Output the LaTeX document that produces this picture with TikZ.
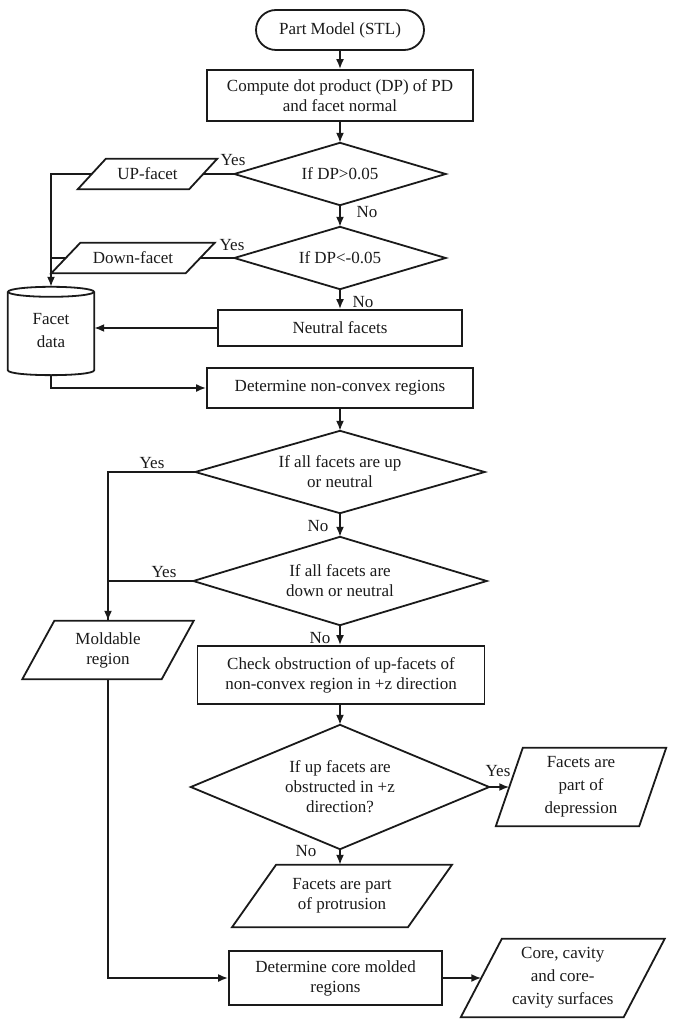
\documentclass[tikz,border=0pt]{standalone}
\usepackage{fontspec}
\setmainfont{Liberation Serif}
\usetikzlibrary{calc,arrows.meta}
\definecolor{ink}{HTML}{1A1A1A}
\newcommand\paral[2]{\draw[ln] ($(#1.south west)+(-#2,0)$) -- ($(#1.north west)+(#2,0)$) -- ($(#1.north east)+(#2,0)$) -- ($(#1.south east)+(-#2,0)$) -- cycle;}
\newcommand\diam[1]{\draw[ln] (#1.north) -- (#1.east) -- (#1.south) -- (#1.west) -- cycle;}
\begin{document}
\begin{tikzpicture}[x=1pt,y=-1pt,
  every node/.style={font=\fontsize{17}{20}\selectfont, text=ink, inner sep=0pt, align=center},
  wide/.style={font=\fontsize{17}{23}\selectfont},
  ln/.style={draw=ink, line width=1.8pt, line join=miter},
  arr/.style={ln, -{Latex[length=10pt,width=8pt]}},
  boxed/.style={draw=ink, line width=1.8pt},
  lbl/.style={font=\fontsize{17}{20}\selectfont}]
\useasboundingbox (0,0) rectangle (675,1024);
% nodes
\node[boxed, rounded corners=20pt, minimum width=168pt, minimum height=40pt] (start) at (340,30) {Part Model (STL)};
\node[boxed, minimum width=266pt, minimum height=51pt] (comp) at (340,95.5) {Compute dot product (DP) of PD\\and facet normal};
\node[minimum width=211pt, minimum height=62pt] (d1) at (340,174) {If DP>0.05};
\node[minimum width=111pt, minimum height=30pt] (up) at (147.5,174) {UP-facet};
\node[minimum width=211pt, minimum height=62pt] (d2) at (340,258) {If DP<-0.05};
\node[minimum width=134pt, minimum height=30pt] (down) at (133,258) {Down-facet};
\node[boxed, minimum width=244pt, minimum height=36pt] (neutral) at (340,328) {Neutral facets};
\node[wide, minimum width=86pt, minimum height=88pt] (fd) at (51,331) {\raisebox{8pt}{\begin{tabular}{@{}c@{}}Facet\\data\end{tabular}}};
\node[boxed, minimum width=266pt, minimum height=40pt] (det) at (340,388) {Determine non-convex regions};
\node[minimum width=289pt, minimum height=82pt] (d3) at (340,472) {If all facets are up\\or neutral};
\node[minimum width=293pt, minimum height=88pt] (d4) at (340,581) {If all facets are\\down or neutral};
\node[minimum width=139pt, minimum height=58pt] (mold) at (108,650) {Moldable\\region};
\node[boxed, minimum width=287pt, minimum height=58pt] (check) at (341,675) {Check obstruction of up-facets of\\non-convex region in +z direction};
\node[minimum width=298pt, minimum height=124pt] (d5) at (340,787) {If up facets are\\obstructed in +z\\direction?};
\node[wide, minimum width=143pt, minimum height=78pt] (dep) at (581,787) {Facets are\\part of\\depression};
\node[minimum width=175.5pt, minimum height=62pt] (prot) at (342,896) {Facets are part\\of protrusion};
\node[boxed, minimum width=213pt, minimum height=54pt] (core) at (335.5,978) {Determine core molded\\regions};
\node[wide, minimum width=162.5pt, minimum height=78pt] (out) at (562.75,978) {Core, cavity\\and core-\\cavity surfaces};
% shapes
\diam{d1} \diam{d2} \diam{d3} \diam{d4} \diam{d5}
\paral{up}{14} \paral{down}{14.5} \paral{mold}{16} \paral{dep}{13.5} \paral{prot}{22} \paral{out}{20.5}
% cylinder
\draw[ln] ($(fd.north)+(0,5)$) ellipse [x radius=43, y radius=5];
\draw[ln] ($(fd.north west)+(0,5)$) -- ($(fd.south west)+(0,-5)$) .. controls +(0,6.6) and +(0,6.6) .. ($(fd.south east)+(0,-5)$) -- ($(fd.north east)+(0,5)$);
% connectors
\draw[arr] (start) -- (comp);
\draw[arr] (comp) -- (d1);
\draw[ln] (d1.west) -- (up.east);
\draw[arr] (up.west) -| (fd.north);
\draw[arr] (d1.south) -- (d2.north);
\draw[ln] (d2.west) -- (down.east);
\draw[ln] (down.west) -- (down.west -| fd.north);
\draw[arr] (d2.south) -- (neutral.north);
\draw[arr] (neutral.west) -- (neutral.west -| fd.east);
\draw[arr] (fd.south) |- (det.west);
\draw[arr] (det) -- (d3);
\draw[ln] (d3.west) -| (mold.north);
\draw[ln] (d4.west) -- (d4.west -| mold.north);
\draw[arr] (d3.west -| mold.north) -- (mold.north);
\draw[arr] (d3.south) -- (d4.north);
\draw[arr] (d4.south) -- (d4.south |- check.north);
\draw[arr] (d5.north |- check.south) -- (d5.north);
\draw[arr] (d5.east) -- (dep.west);
\draw[arr] (d5.south) -- (d5.south |- prot.north);
\draw[arr] (mold.south) |- (core.west);
\draw[arr] (core.east) -- (out.west);
% labels
\node[lbl] (y1) at (233,160) {Yes};
\node[lbl] (n1) at (367,212) {No};
\node[lbl] (y2) at (232,245) {Yes};
\node[lbl] (n2) at (363,302) {No};
\node[lbl] (y3) at (152,463) {Yes};
\node[lbl] (n3) at (318,526) {No};
\node[lbl] (y4) at (164,572) {Yes};
\node[lbl] (n4) at (320,638) {No};
\node[lbl] (y5) at (498,771) {Yes};
\node[lbl] (n5) at (306,851) {No};
\end{tikzpicture}
\end{document}
